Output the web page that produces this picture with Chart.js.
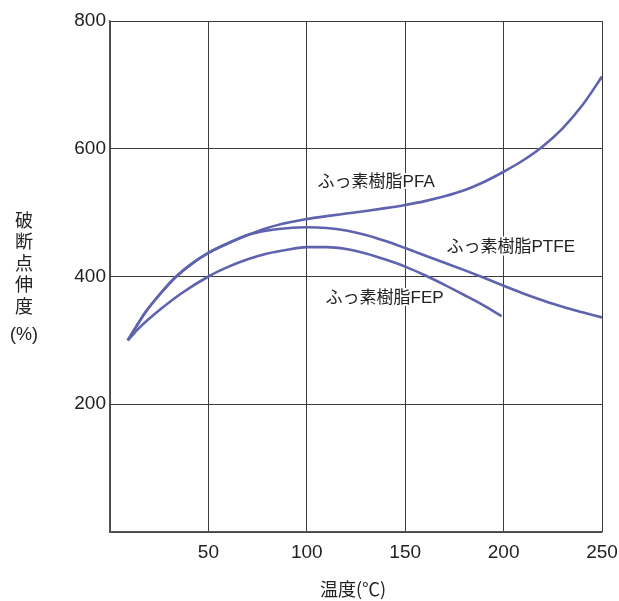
<!DOCTYPE html>
<html>
<head>
<meta charset="utf-8">
<script src="https://cdn.jsdelivr.net/npm/chart.js@4/dist/chart.umd.min.js"></script>
<style>
  html, body { margin: 0; padding: 0; background: #fff; }
  #wrap { width: 619px; height: 601px; }
</style>
</head>
<body>
<div id="wrap"><canvas id="c" width="619" height="601"></canvas></div>
<script>
// Elongation at break (%) vs temperature (°C) for three fluororesins
const tempPFA  = [9, 13, 18, 25, 33, 42, 50, 60, 70, 80, 90, 100, 110, 120, 130, 140, 150, 160, 170, 180, 190, 200, 210, 220, 230, 240, 250];
const elongPFA = [300, 320, 344, 371, 398, 421, 437, 452, 465, 476, 484, 490, 494.5, 498.5, 502.5, 507, 512, 518, 525.5, 535, 548, 564, 582, 604, 632, 668, 713];

const tempPTFE  = [9, 13, 18, 25, 33, 42, 50, 60, 70, 80, 90, 100, 110, 120, 130, 140, 150, 160, 170, 180, 190, 200, 210, 220, 230, 240, 250];
const elongPTFE = [300, 320, 344, 371, 398, 421, 437, 452, 465, 472, 475.5, 477, 476, 472, 465, 455.5, 444.5, 433, 421.5, 410, 398, 385.5, 373.5, 362.5, 352.5, 344, 336];

const tempFEP  = [9, 15, 25, 36, 50, 60, 70, 80, 90, 100, 110, 120, 130, 140, 150, 160, 170, 180, 190, 199];
const elongFEP = [300, 320, 347, 373, 400, 415, 427, 436, 442, 446, 446, 443, 436, 426.5, 415.5, 402, 387, 371, 354.5, 338];

const xTicks = [0, 50, 100, 150, 200, 250];
const yTicks = [0, 200, 400, 600, 800];

// Curve labels: text, anchor temperature, anchor elongation
const curveLabels = [
  { text: 'ふっ素樹脂PFA',  x: 105.5, y: 548 },
  { text: 'ふっ素樹脂PTFE', x: 171,   y: 446 },
  { text: 'ふっ素樹脂FEP',  x: 109.5, y: 366 }
];

const yTitleChars = ['破', '断', '点', '伸', '度'];
const yTitleUnit = '(%)';
const xTitle = '温度(℃)';

const LINE = '#5f63ae';
const GRID = '#3a3a3a';
const TEXT = '#222';
const LATIN = '"Liberation Sans", Arial, "Noto Sans CJK JP", sans-serif';
const CJK = '"Noto Sans CJK JP", "Liberation Sans", sans-serif';

const toPoints = (xs, ys) => xs.map((x, i) => ({ x, y: ys[i] }));

const lineStyle = {
  borderColor: LINE,
  borderWidth: 2.6,
  pointRadius: 0,
  fill: false,
  cubicInterpolationMode: 'monotone'
};

const annotate = {
  id: 'annotate',
  afterDatasetsDraw(chart) {
    const { ctx, scales: { x, y } } = chart;
    ctx.save();
    ctx.font = '17px ' + LATIN;
    ctx.textAlign = 'left';
    ctx.textBaseline = 'middle';
    curveLabels.forEach(l => {
      const px = x.getPixelForValue(l.x), py = y.getPixelForValue(l.y);
      ctx.lineWidth = 4;
      ctx.strokeStyle = '#fff';
      ctx.lineJoin = 'round';
      ctx.strokeText(l.text, px, py);
      ctx.fillStyle = TEXT;
      ctx.fillText(l.text, px, py);
    });

    // vertical y-axis title
    ctx.font = '18px ' + CJK;
    ctx.textAlign = 'center';
    ctx.fillStyle = TEXT;
    yTitleChars.forEach((ch, i) => ctx.fillText(ch, 24, 220 + i * 21.5));
    ctx.font = '18px ' + LATIN;
    ctx.fillText(yTitleUnit, 24, 335);

    // x-axis title
    ctx.font = '18px ' + CJK;
    ctx.fillText(xTitle, 353, 589);
    ctx.restore();
  }
};

new Chart(document.getElementById('c'), {
  type: 'line',
  data: {
    datasets: [
      { label: 'PFA',  data: toPoints(tempPFA, elongPFA),  ...lineStyle },
      { label: 'PTFE', data: toPoints(tempPTFE, elongPTFE), ...lineStyle },
      { label: 'FEP',  data: toPoints(tempFEP, elongFEP),  ...lineStyle }
    ]
  },
  options: {
    responsive: false,
    animation: false,
    layout: { padding: { top: 21, right: 17, left: 0, bottom: 0 } },
    plugins: { legend: { display: false }, tooltip: { enabled: false } },
    scales: {
      x: {
        type: 'linear',
        min: 0, max: 250,
        afterBuildTicks: s => { s.ticks = xTicks.map(v => ({ value: v })); },
        afterFit: s => { s.height = 69; s.paddingLeft = 0; s.paddingRight = 0; },
        grid: { color: GRID, lineWidth: 1, drawTicks: false },
        border: { color: '#555', width: 1.5 },
        ticks: {
          padding: 9,
          color: TEXT,
          font: { size: 19, family: LATIN },
          maxRotation: 0,
          callback: v => (v === 0 ? '' : String(v))
        }
      },
      y: {
        min: 0, max: 800,
        afterBuildTicks: s => { s.ticks = yTicks.map(v => ({ value: v })); },
        afterFit: s => { s.width = 110; s.paddingTop = 0; s.paddingBottom = 0; },
        grid: { color: GRID, lineWidth: 1, drawTicks: false },
        border: { color: '#555', width: 1.5 },
        ticks: {
          padding: 4,
          color: TEXT,
          font: { size: 19, family: LATIN },
          callback: v => (v === 0 ? '' : String(v))
        }
      }
    }
  },
  plugins: [annotate]
});
</script>
</body>
</html>
